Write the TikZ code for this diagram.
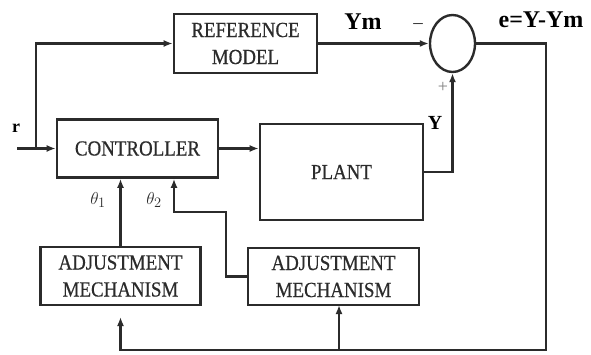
\documentclass[tikz,border=0pt]{standalone}
\usepackage{fontspec}
\setmainfont{Liberation Serif}
\newfontfamily\boxfont[FakeStretch=0.88,FakeBold=0.6]{Liberation Serif}
\usetikzlibrary{arrows.meta,shapes.geometric}
\definecolor{ink}{HTML}{2B2B2B}
\begin{document}
\begin{tikzpicture}[x=1pt,y=-1pt,
  blk/.style={draw=ink,line width=2.6pt,inner sep=0pt,align=center,text=ink,
    font=\boxfont\fontsize{21.5}{27}\selectfont},
  wire/.style={draw=ink,line width=2.4pt},
  arr/.style={wire,-{Latex[length=9pt,width=7pt]}},
  lab/.style={text=black,font=\fontsize{24}{24}\selectfont\bfseries,inner sep=0pt},
  th/.style={text=ink,font=\fontsize{19}{19}\selectfont,inner sep=0pt}]
\useasboundingbox (0,0) rectangle (591,355);
\node[blk,minimum width=143pt,minimum height=59pt] (ref) at (245.5,43.5) {REFERENCE\\MODEL};
\node[blk,minimum width=161pt,minimum height=58pt] (ctrl) at (137.5,148.5) {CONTROLLER};
\node[blk,minimum width=163pt,minimum height=96pt] (plant) at (341.5,172) {PLANT};
\node[draw=ink,line width=2.4pt,ellipse,minimum width=45pt,minimum height=57pt,inner sep=0pt] (sum) at (452.5,43.5) {};
\node[blk,minimum width=160pt,minimum height=58pt] (adj1) at (120.5,276) {ADJUSTMENT\\MECHANISM};
\node[blk,minimum width=171pt,minimum height=57pt] (adj2) at (333.5,276.5) {ADJUSTMENT\\MECHANISM};
\coordinate (in) at (17,148.5);
\coordinate (split) at (36,148.5);
\coordinate (cr) at (546,350);
\coordinate (a1in) at (120.5,317);
\coordinate (b2) at (339,350);
\coordinate (a2in) at (339,305);
\coordinate (t2) at (174,212);
\draw[arr] (in) -- (ctrl.west);
\draw[arr] (split) |- (ref.west);
\draw[arr] (ctrl.east) -- (ctrl.east -| plant.west);
\draw[arr] (ref.east) -- (sum.west);
\draw[arr] (plant.east) -| (sum.south);
\draw[arr] (sum.east) -| (cr) -| (a1in);
\draw[arr] (b2) -- (a2in);
\draw[arr] (adj1.north) -- (adj1.north |- ctrl.south);
\draw[arr] (adj2.west) -- ++(-21,0) |- (t2) -- (t2 |- ctrl.south);
\node[lab] (ym) at (363,22) {Ym};
\node[lab] (e) at (541,20) {e=Y-Ym};
\node[lab,font=\fontsize{20}{20}\selectfont\bfseries] (y) at (435,123) {Y};
\node[lab,font=\fontsize{18}{18}\selectfont\bfseries] (r) at (16,128) {r};
\node[th] (minus) at (418,26) {\textendash};
\node[th,text=gray,font=\fontsize{18}{18}\selectfont] (plus) at (443,87) {+};
\node[th] (th1) at (98,200) {$\theta_1$};
\node[th] (th2) at (154,200) {$\theta_2$};
\end{tikzpicture}
\end{document}
